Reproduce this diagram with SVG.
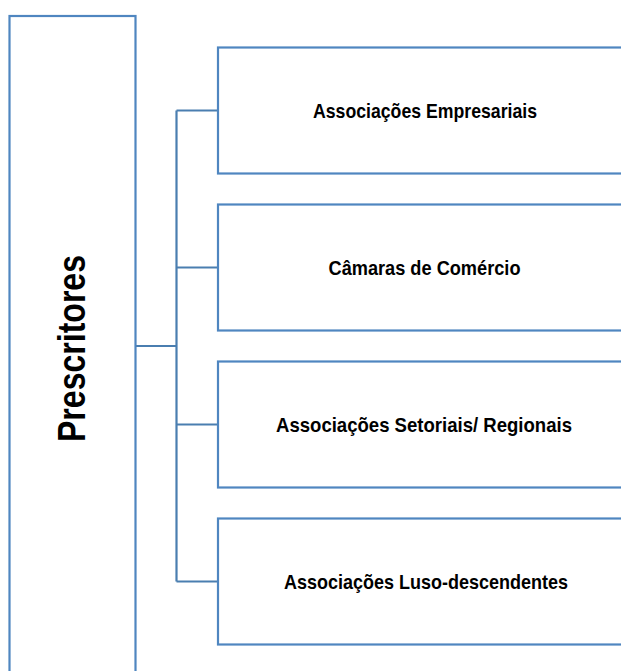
<svg xmlns="http://www.w3.org/2000/svg" width="621" height="671" viewBox="0 0 621 671">
<style>
.box{fill:#fff;stroke:#4F86C0;stroke-width:2.2}
.conn{fill:none;stroke:#4A7EB0;stroke-width:2.2}
.lbl{font-family:"Liberation Sans",Arial,sans-serif;font-size:21px;font-weight:bold;fill:#000;text-anchor:middle}
.main{font-family:"Liberation Sans",Arial,sans-serif;font-size:38px;font-weight:bold;fill:#000;text-anchor:middle}
</style>
<rect width="621" height="671" fill="#fff"/>
<g id="connectors">
<path class="conn" d="M135.5 346 H176.5 M176.5 110.5 V581.5 M176.5 110.5 H218 M176.5 267.5 H218 M176.5 424.5 H218 M176.5 581.5 H218"/>
</g>
<g id="prescritores">
<rect class="box" x="9.5" y="16" width="126" height="670"/>
<text class="main" transform="translate(85 348.5) rotate(-90)" textLength="187" lengthAdjust="spacingAndGlyphs">Prescritores</text>
</g>
<g id="n1">
<rect class="box" x="218" y="47.5" width="420" height="126"/>
<text class="lbl" x="425" y="117.5" textLength="224" lengthAdjust="spacingAndGlyphs">Associações Empresariais</text>
</g>
<g id="n2">
<rect class="box" x="218" y="204.5" width="420" height="126"/>
<text class="lbl" x="424.5" y="274.5" textLength="192" lengthAdjust="spacingAndGlyphs">Câmaras de Comércio</text>
</g>
<g id="n3">
<rect class="box" x="218" y="361.5" width="420" height="126"/>
<text class="lbl" x="424" y="431.5" textLength="296" lengthAdjust="spacingAndGlyphs">Associações Setoriais/ Regionais</text>
</g>
<g id="n4">
<rect class="box" x="218" y="518.5" width="420" height="126"/>
<text class="lbl" x="426" y="588.5" textLength="284" lengthAdjust="spacingAndGlyphs">Associações Luso-descendentes</text>
</g>
</svg>
